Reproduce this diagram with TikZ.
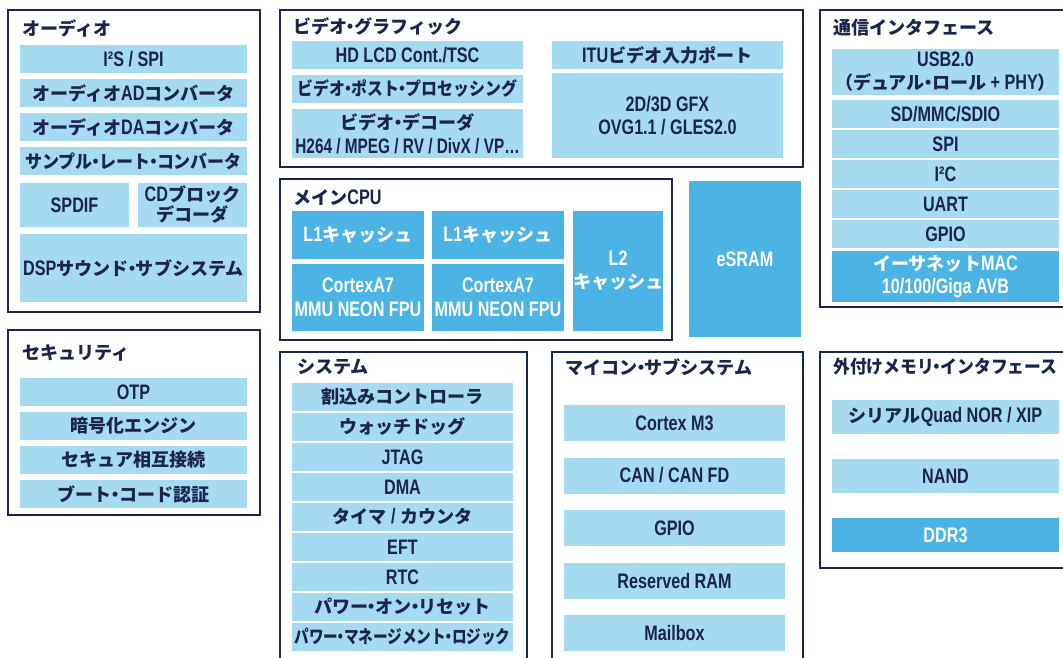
\documentclass[tikz,border=0pt]{standalone}
\usepackage{fontspec}
\usepackage{graphicx}
\usepackage{xcolor}
\usepackage{tikz}
\usetikzlibrary{positioning}

\setmainfont{Liberation Sans}[FakeStretch=0.77]
\newfontfamily\jpfont{Noto Sans CJK JP}[Scale=0.86]

% switch to the Japanese font for kana and kanji, narrow middle dot
\XeTeXinterchartokenstate=1
\newXeTeXintercharclass\jpclass
\newXeTeXintercharclass\dotclass
\newcount\jpcode
\newcommand\setjprange[2]{%
  \jpcode=#1\relax
  \loop
    \XeTeXcharclass\jpcode=\jpclass
    \ifnum\jpcode<#2\relax
    \advance\jpcode by 1
  \repeat}
\setjprange{"3000}{"30FF}
\setjprange{"4E00}{"9FFF}
\setjprange{"FF01}{"FF60}
\XeTeXcharclass"30FB=\dotclass
\XeTeXinterchartoks 0 \jpclass = {\jpfont}
\XeTeXinterchartoks 4095 \jpclass = {\jpfont}
\XeTeXinterchartoks \jpclass 0 = {\rmfamily}
\XeTeXinterchartoks \jpclass 4095 = {\rmfamily}
\XeTeXinterchartoks \jpclass \dotclass = {\kern-.3em}
\XeTeXinterchartoks 0 \dotclass = {\jpfont\kern-.3em}
\XeTeXinterchartoks 4095 \dotclass = {\jpfont}
\XeTeXinterchartoks \dotclass \jpclass = {\kern-.3em}
\XeTeXinterchartoks \dotclass 0 = {\kern-.3em\rmfamily}
\XeTeXinterchartoks \dotclass 4095 = {\kern-.3em\rmfamily}

\definecolor{framecol}{RGB}{24,38,72}
\definecolor{textcol}{RGB}{26,36,76}
\definecolor{lightcol}{RGB}{166,218,241}
\definecolor{darkcol}{RGB}{75,180,228}
\newcommand\boxfont{\fontsize{21}{23}\selectfont\bfseries}

\begin{document}
\begin{tikzpicture}[
    x=1pt, y=-1pt,
    frame/.style={draw=framecol, line width=2.6pt, fill=white, anchor=north west, inner sep=0pt, outer sep=0pt},
    title/.style={anchor=west, text=textcol, font=\boxfont, inner sep=0pt},
    lbox/.style={fill=lightcol, text=textcol, anchor=north west, inner sep=0pt, outer sep=0pt, align=center, font=\boxfont, minimum width=227pt, minimum height=28pt},
    dbox/.style={lbox, fill=darkcol, text=white}
]
    \clip (0,0) rectangle (1063,657);

    % Audio
    \node [frame, minimum width=252pt, minimum height=302pt] (audio) at (8,10) {};
    \node [title] (audiot) at ([xshift=14pt, yshift=-18pt]audio.north west) {オーディオ};
    \node [lbox] (i2s) at (20,45) {I²S / SPI};
    \node [lbox, below=6pt of i2s] (adc) {オーディオADコンバータ};
    \node [lbox, below=6pt of adc] (dac) {オーディオDAコンバータ};
    \node [lbox, below=6pt of dac] (src) {\scalebox{0.94}[1]{サンプル・レート・コンバータ}};
    \node [lbox, minimum width=109pt, minimum height=44pt] (spdif) at (20,183) {SPDIF};
    \node [lbox, minimum width=109pt, minimum height=44pt, right=9pt of spdif] (cdblk) {CDブロック\\[-3pt]デコーダ};
    \node [lbox, minimum height=68pt] (dsp) at (20,234) {DSPサウンド・サブシステム};

    % Security
    \node [frame, minimum width=252pt, minimum height=185pt] (secu) at (8,330) {};
    \node [title] (secut) at ([xshift=14pt, yshift=-23pt]secu.north west) {セキュリティ};
    \node [lbox] (otp) at (20,378) {OTP};
    \node [lbox, below=6pt of otp] (crypto) {暗号化エンジン};
    \node [lbox, below=6pt of crypto] (secic) {セキュア相互接続};
    \node [lbox, below=6pt of secic] (bootauth) {ブート・コード認証};

    % Video / graphics
    \node [frame, minimum width=523pt, minimum height=157pt] (video) at (280,10) {};
    \node [title] (videot) at ([xshift=13pt, yshift=-17pt]video.north west) {ビデオ・グラフィック};
    \node [lbox, minimum width=231pt] (lcd) at (292,41) {HD LCD Cont./TSC};
    \node [lbox, minimum width=231pt, below=6pt of lcd] (postproc) {\scalebox{0.88}[1]{ビデオ・ポスト・プロセッシング}};
    \node [lbox, minimum width=231pt, minimum height=49pt, below=6pt of postproc] (vdec) {ビデオ・デコーダ\\[1pt]\scalebox{0.95}[1]{H264 / MPEG / RV / DivX / VP…}};
    \node [lbox, minimum width=231pt] (itu) at (552,41) {ITUビデオ入力ポート};
    \node [lbox, minimum width=231pt, minimum height=85pt, below=4pt of itu] (gfx) {2D/3D GFX\\OVG1.1 / GLES2.0};

    % Main CPU
    \node [frame, minimum width=392pt, minimum height=161pt] (cpu) at (280,179) {};
    \node [title] (cput) at ([xshift=13pt, yshift=-19pt]cpu.north west) {メインCPU};
    \node [dbox, minimum width=132pt, minimum height=48pt] (l1a) at (292,211) {L1キャッシュ};
    \node [dbox, minimum width=132pt, minimum height=48pt, right=8pt of l1a] (l1b) {L1キャッシュ};
    \node [dbox, minimum width=132pt, minimum height=67pt, below=5pt of l1a] (a7a) {CortexA7\\[1pt]MMU NEON FPU};
    \node [dbox, minimum width=132pt, minimum height=67pt, below=5pt of l1b] (a7b) {CortexA7\\[1pt]MMU NEON FPU};
    \node [dbox, minimum width=85pt, minimum height=120pt] (l2) at (573,211) {L2\\キャッシュ};
    \node [dbox, minimum width=112pt, minimum height=156pt] (esram) at (689,181) {eSRAM};

    % Communication interfaces
    \node [frame, minimum width=250pt, minimum height=297pt] (comm) at (820,10) {};
    \node [title] (commt) at ([xshift=13pt, yshift=-18pt]comm.north west) {通信インタフェース};
    \node [lbox, minimum height=46pt] (usb) at (832,49) {USB2.0\\（デュアル・ロール + PHY）};
    \node [lbox, below=5pt of usb] (sdmmc) {SD/MMC/SDIO};
    \node [lbox, below=2pt of sdmmc] (spi) {SPI};
    \node [lbox, below=2pt of spi] (i2c) {I²C};
    \node [lbox, below=2pt of i2c] (uart) {UART};
    \node [lbox, below=2pt of uart] (gpio) {GPIO};
    \node [dbox, minimum height=51pt, below=3pt of gpio] (ether) {イーサネットMAC\\10/100/Giga AVB};

    % System
    \node [frame, minimum width=247pt, minimum height=330pt] (sys) at (280,352) {};
    \node [title] (syst) at ([xshift=17pt, yshift=-15pt]sys.north west) {システム};
    \node [lbox, minimum width=221pt] (intc) at (292,383) {割込みコントローラ};
    \node [lbox, minimum width=221pt, below=2pt of intc] (wdog) {ウォッチドッグ};
    \node [lbox, minimum width=221pt, below=2pt of wdog] (jtag) {JTAG};
    \node [lbox, minimum width=221pt, below=2pt of jtag] (dma) {DMA};
    \node [lbox, minimum width=221pt, below=2pt of dma] (timer) {タイマ / カウンタ};
    \node [lbox, minimum width=221pt, below=2pt of timer] (eft) {EFT};
    \node [lbox, minimum width=221pt, below=2pt of eft] (rtc) {RTC};
    \node [lbox, minimum width=221pt, below=2pt of rtc] (por) {パワー・オン・リセット};
    \node [lbox, minimum width=221pt, below=2pt of por] (pmlogic) {\scalebox{0.81}[1]{パワー・マネージメント・ロジック}};

    % MCU subsystem
    \node [frame, minimum width=251pt, minimum height=330pt] (mcu) at (552,352) {};
    \node [title] (mcut) at ([xshift=13pt, yshift=-15pt]mcu.north west) {マイコン・サブシステム};
    \node [lbox, minimum width=221pt, minimum height=36pt] (m3) at (564,405) {Cortex M3};
    \node [lbox, minimum width=221pt, minimum height=36pt, below=16.5pt of m3] (can) {CAN / CAN FD};
    \node [lbox, minimum width=221pt, minimum height=36pt, below=16.5pt of can] (mgpio) {GPIO};
    \node [lbox, minimum width=221pt, minimum height=36pt, below=16.5pt of mgpio] (resram) {Reserved RAM};
    \node [lbox, minimum width=221pt, minimum height=36pt, below=16.5pt of resram] (mbox) {Mailbox};

    % External memory interfaces
    \node [frame, minimum width=250pt, minimum height=216pt] (extmem) at (820,352) {};
    \node [title] (extmemt) at ([xshift=13pt, yshift=-15pt]extmem.north west) {\scalebox{0.93}[1]{外付けメモリ・インタフェース}};
    \node [lbox, minimum height=34pt] (qnor) at (832,400) {シリアルQuad NOR / XIP};
    \node [lbox, minimum height=34pt, below=25pt of qnor] (nand) {NAND};
    \node [dbox, minimum height=34pt, below=25pt of nand] (ddr) {DDR3};
\end{tikzpicture}
\end{document}
